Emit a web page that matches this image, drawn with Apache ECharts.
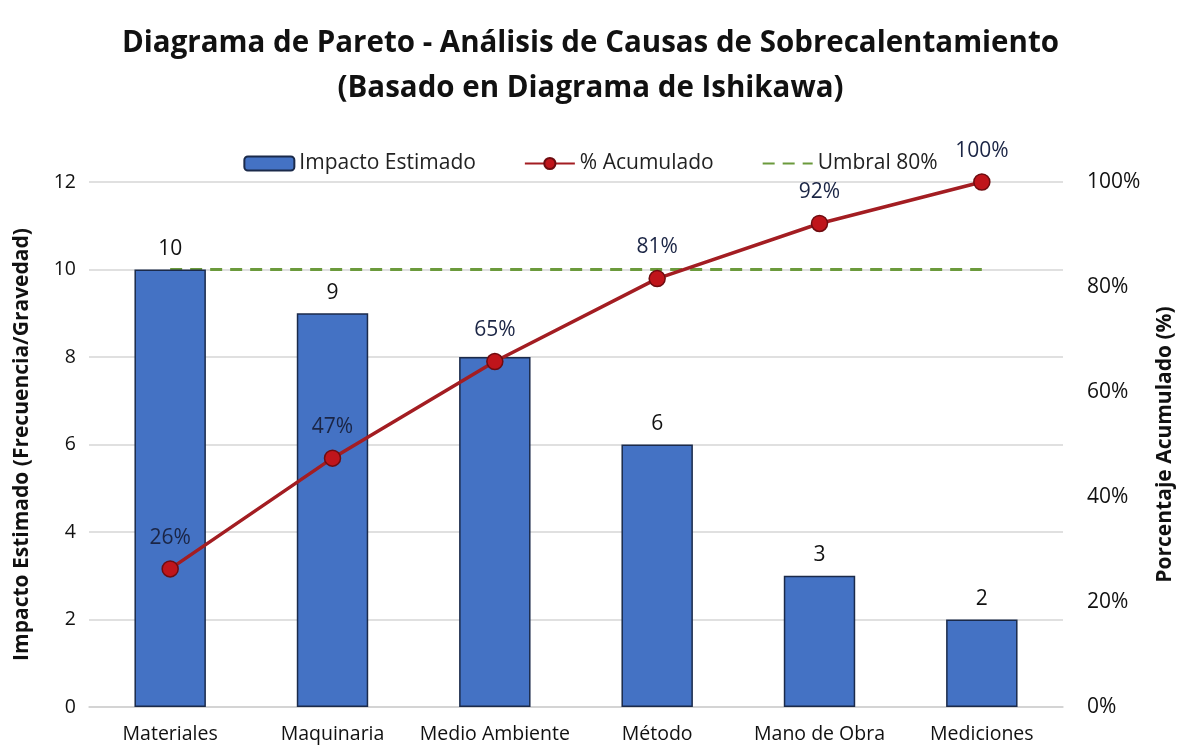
<!DOCTYPE html>
<html><head><meta charset="utf-8">
<script src="https://cdn.jsdelivr.net/npm/echarts@6/dist/echarts.min.js"></script>
<style>html,body{margin:0;padding:0;background:#fff}#c{width:1181px;height:746px}</style>
</head><body><div id="c"></div>
<script>
var categories = ['Materiales','Maquinaria','Medio Ambiente','Método','Mano de Obra','Mediciones'];
var impacto = [10, 9, 8, 6, 3, 2];
var impactoLabelShown = [true, true, false, true, true, true];
var acumulado = [26.3, 47.4, 65.8, 81.6, 92.1, 100];
var umbral = [10, 10, 10, 10, 10, 10];
var leftTicks = {min: 0, max: 12, interval: 2};
var rightTicks = {min: 0, max: 100, interval: 20};

var FONT = '"Open Sans", "Noto Sans", sans-serif';
var chart = echarts.init(document.getElementById('c'));
chart.setOption({
  backgroundColor: '#fff',
  textStyle: {fontFamily: FONT},
  title: {
    text: 'Diagrama de Pareto - Análisis de Causas de Sobrecalentamiento\n(Basado en Diagrama de Ishikawa)',
    left: 'center', top: 16,
    textStyle: {fontFamily: FONT, fontSize: 29.5, fontWeight: 'bold', color: '#111', lineHeight: 45}
  },
  legend: {
    top: 148, left: 'center', itemGap: 48, itemWidth: 50, itemHeight: 14,
    textStyle: {fontFamily: FONT, fontSize: 21, color: '#222'},
    data: [
      {name: 'Impacto Estimado'},
      {name: '% Acumulado'},
      {name: 'Umbral 80%', itemStyle: {opacity: 0}}
    ]
  },
  grid: {left: 89, right: 118, top: 182, bottom: 39, containLabel: false, outerBoundsMode: 'none'},
  xAxis: {
    type: 'category', data: categories,
    axisLine: {lineStyle: {color: '#d0d0d0', width: 1.5}},
    axisTick: {show: false},
    axisLabel: {fontFamily: FONT, fontSize: 19.5, color: '#111', margin: 17, interval: 0}
  },
  yAxis: [
    {
      type: 'value', min: leftTicks.min, max: leftTicks.max, interval: leftTicks.interval,
      name: 'Impacto Estimado (Frecuencia/Gravedad)', nameLocation: 'middle', nameGap: 56,
      nameTextStyle: {fontFamily: FONT, fontSize: 21, fontWeight: 'bold', color: '#111'},
      axisLine: {show: false}, axisTick: {show: false},
      axisLabel: {fontFamily: FONT, fontSize: 19.5, color: '#111', margin: 13},
      splitLine: {lineStyle: {color: '#d6d6d6', width: 1.5}}
    },
    {
      type: 'value', min: rightTicks.min, max: rightTicks.max, interval: rightTicks.interval,
      name: 'Porcentaje Acumulado (%)', nameLocation: 'middle', nameGap: 92, nameRotate: 90,
      nameTextStyle: {fontFamily: FONT, fontSize: 21, fontWeight: 'bold', color: '#111'},
      axisLine: {show: false}, axisTick: {show: false},
      axisLabel: {fontFamily: FONT, fontSize: 21, color: '#111', margin: 24, formatter: '{value}%'},
      splitLine: {show: false}
    }
  ],
  series: [
    {
      name: 'Umbral 80%', type: 'line', yAxisIndex: 0, data: umbral, z: 1,
      symbol: 'none', silent: true,
      lineStyle: {color: '#6b9a3c', width: 3, type: [12, 8]},
      itemStyle: {color: '#6b9a3c'}
    },
    {
      name: 'Impacto Estimado', type: 'bar', yAxisIndex: 0, z: 2,
      data: impacto.map(function (v, i) { return {value: v, label: {show: impactoLabelShown[i]}}; }),
      barWidth: '44%',
      itemStyle: {color: '#4472c4', borderColor: '#1b2a4a', borderWidth: 1.5},
      label: {show: true, position: 'top', distance: 10, fontFamily: FONT, fontSize: 21, color: '#111'}
    },
    {
      name: '% Acumulado', type: 'line', yAxisIndex: 1, data: acumulado, z: 5,
      symbol: 'circle', symbolSize: 16,
      lineStyle: {color: '#a31d22', width: 3.5},
      itemStyle: {color: '#c0151b', borderColor: '#6e0c10', borderWidth: 1.5},
      label: {show: true, position: 'top', distance: 12, fontFamily: FONT, fontSize: 21, color: '#1b2545',
        formatter: function (p) { return Math.floor(p.value) + '%'; }}
    }
  ]
});
</script>
</body></html>
